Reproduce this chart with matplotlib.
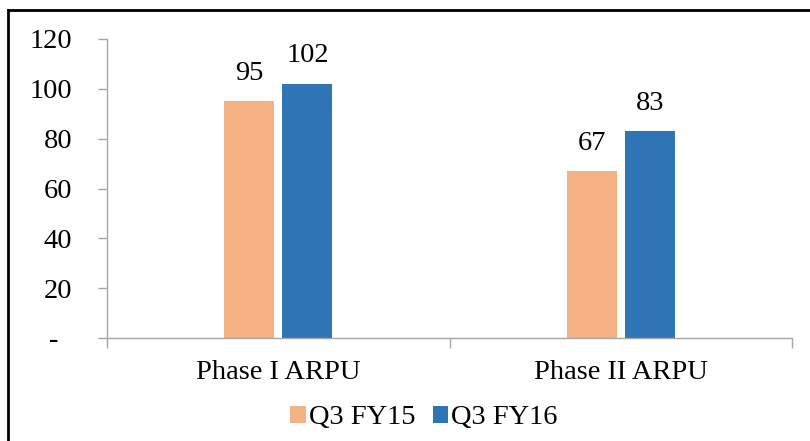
import matplotlib
matplotlib.use("Agg")
import matplotlib.pyplot as plt
import matplotlib.transforms as mtransforms
from matplotlib.lines import Line2D
import numpy as np

categories = ["Phase I ARPU", "Phase II ARPU"]
series_names = ["Q3 FY15", "Q3 FY16"]
q3_fy15 = [95, 67]
q3_fy16 = [102, 83]
y_ticks = [0, 20, 40, 60, 80, 100, 120]
y_tick_labels = ["-", "20", "40", "60", "80", "100", "120"]

colors = ["#F4B183", "#2E75B6"]
FONT = "Liberation Serif"
FS = 20.5

plt.rcParams["font.family"] = [FONT, "DejaVu Serif"]

W, H = 810, 441
fig = plt.figure(figsize=(W / 100, H / 100), dpi=100)
ax = fig.add_axes([107 / W, 1 - 338 / H, (792 - 107) / W, (338 - 39) / H])

x = np.arange(len(categories))
bw = 0.146
off = 0.085
for vals, c, name, d in zip([q3_fy15, q3_fy16], colors, series_names, [-off, off]):
    bars = ax.bar(x + d, vals, width=bw, color=c, label=name, zorder=2)
    for b, v in zip(bars, vals):
        ax.annotate(str(v), (b.get_x() + b.get_width() / 2, v),
                    xytext=(0, 15.5), textcoords="offset points",
                    ha="center", va="baseline", fontsize=FS, color="black")

ax.set_xlim(-0.5, 1.5)
ax.set_ylim(0, 120)

axis_col = "#A6A6A6"
for s in ["top", "right"]:
    ax.spines[s].set_visible(False)
for s in ["left", "bottom"]:
    ax.spines[s].set_color(axis_col)
    ax.spines[s].set_linewidth(1.0)

ax.set_yticks(y_ticks)
ax.set_yticklabels(y_tick_labels)
ax.tick_params(axis="y", direction="out", length=6.5, width=1.0, color=axis_col,
               pad=18.5, labelsize=FS)

ax.set_xticks(x)
ax.set_xticklabels(categories)
ax.set_xticks([-0.5, 0.5, 1.5], minor=True)
ax.tick_params(axis="x", which="major", length=0, pad=16, labelsize=FS)
ax.tick_params(axis="x", which="minor", direction="out", length=7.5, width=1.0, color=axis_col)

# shift the "-" zero label left like the reference
lab0 = ax.get_yticklabels()[0]
lab0.set_transform(lab0.get_transform() + mtransforms.ScaledTranslation(-14 / 100, 0, fig.dpi_scale_trans))

leg = fig.legend(loc="center", bbox_to_anchor=(424 / W, 1 - 418 / H),
                 ncol=2, frameon=False, fontsize=FS, handlelength=0.55,
                 handleheight=0.55, handletextpad=0.1, columnspacing=0.6)

# outer frame lines (top and left)
fig.add_artist(Line2D([8 / W, 1], [1 - 10.3 / H, 1 - 10.3 / H], transform=fig.transFigure,
                      color="black", linewidth=2.0))
fig.add_artist(Line2D([8 / W, 8 / W], [0, 1 - 10.3 / H], transform=fig.transFigure,
                      color="black", linewidth=2.0))

fig.savefig("out.png", dpi=100)
